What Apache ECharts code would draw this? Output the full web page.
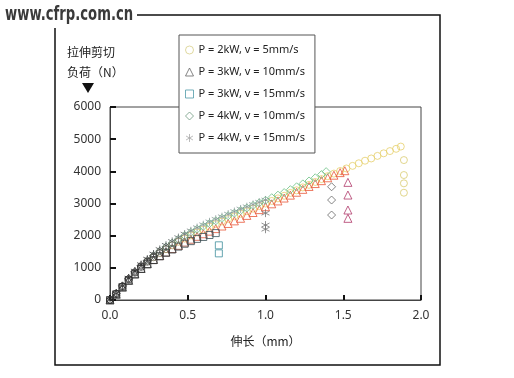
<!DOCTYPE html>
<html><head><meta charset="utf-8">
<script src="https://cdn.jsdelivr.net/npm/echarts@6/dist/echarts.min.js"></script>
<style>html,body{margin:0;padding:0;background:#fff}#c{width:514px;height:378px}</style>
</head><body><div id="c"></div>
<script>
const legendNames = ['P = 2kW, v = 5mm/s','P = 3kW, v = 10mm/s','P = 3kW, v = 15mm/s','P = 4kW, v = 10mm/s','P = 4kW, v = 15mm/s'];
const xTicks = [0, 0.5, 1.0, 1.5, 2.0];
const yTicks = [0, 1000, 2000, 3000, 4000, 5000, 6000];

// P = 2kW, v = 5mm/s (circles)
const circleCurve = [[0,0],[0.04,190],[0.08,420],[0.12,640],[0.16,850],[0.20,1030],[0.24,1190],[0.28,1330],[0.32,1460],[0.36,1580],[0.40,1700],[0.44,1810],[0.48,1910],[0.52,2010],[0.56,2100],[0.60,2190],[0.64,2280],[0.68,2360],[0.72,2440],[0.76,2520],[0.80,2600],[0.84,2680],[0.88,2760],[0.92,2840],[0.96,2920],[1.00,3000],[1.04,3080],[1.08,3160],[1.12,3240],[1.16,3330],[1.20,3410],[1.24,3500],[1.28,3580],[1.32,3670],[1.36,3760],[1.40,3850],[1.44,3930],[1.48,4010],[1.52,4090],[1.56,4170],[1.60,4250],[1.64,4330],[1.68,4400],[1.72,4480],[1.76,4560],[1.80,4630],[1.84,4700],[1.87,4770]];
const circleFail = [[1.89,4350],[1.89,3885],[1.89,3627],[1.89,3335]];
// P = 3kW, v = 10mm/s (triangles)
const triCurve = [[0,0],[0.04,180],[0.08,400],[0.12,610],[0.16,810],[0.20,980],[0.24,1130],[0.28,1260],[0.32,1380],[0.36,1490],[0.40,1600],[0.44,1700],[0.48,1800],[0.52,1890],[0.56,1980],[0.60,2060],[0.64,2140],[0.68,2220],[0.72,2300],[0.76,2380],[0.80,2460],[0.84,2540],[0.88,2630],[0.92,2720],[0.96,2810],[1.00,2900],[1.04,2990],[1.08,3080],[1.12,3170],[1.16,3260],[1.20,3350],[1.24,3440],[1.28,3530],[1.32,3620],[1.36,3710],[1.40,3800],[1.44,3880],[1.48,3960],[1.51,4020]];
const triFail = [[1.53,3657],[1.53,3263],[1.53,2797],[1.53,2539]];
// P = 3kW, v = 15mm/s (squares)
const sqCurve = [[0,0],[0.04,180],[0.08,400],[0.12,610],[0.16,800],[0.20,970],[0.24,1110],[0.28,1240],[0.32,1360],[0.36,1470],[0.40,1570],[0.44,1660],[0.48,1750],[0.52,1830],[0.56,1900],[0.60,1960],[0.64,2020],[0.68,2080]];
const sqFail = [[0.70,1700],[0.70,1450]];
// P = 4kW, v = 10mm/s (diamonds)
const diaCurve = [[0,0],[0.04,210],[0.08,440],[0.12,670],[0.16,880],[0.20,1070],[0.24,1230],[0.28,1380],[0.32,1520],[0.36,1650],[0.40,1770],[0.44,1890],[0.48,2000],[0.52,2100],[0.56,2200],[0.60,2290],[0.64,2380],[0.68,2460],[0.72,2540],[0.76,2620],[0.80,2700],[0.84,2780],[0.88,2860],[0.92,2940],[0.96,3020],[1.00,3100],[1.04,3180],[1.08,3260],[1.12,3340],[1.16,3430],[1.20,3520],[1.24,3610],[1.28,3700],[1.32,3800],[1.36,3900],[1.39,3990]];
const diaFail = [[1.425,3520],[1.425,3108],[1.425,2642]];
// P = 4kW, v = 15mm/s (stars)
const starCurve = [[0,0],[0.04,200],[0.08,430],[0.12,680],[0.16,900],[0.20,1100],[0.24,1270],[0.28,1430],[0.32,1570],[0.36,1700],[0.40,1820],[0.44,1940],[0.48,2050],[0.52,2150],[0.56,2250],[0.60,2340],[0.64,2430],[0.68,2510],[0.72,2590],[0.76,2670],[0.80,2750],[0.84,2830],[0.88,2900],[0.92,2970],[0.96,3040],[1.00,3110]];
const starFail = [[1.0,2700],[1.0,2330],[1.0,2200]];

const starPath = 'path://M5,0L5,10M0.67,2.5L9.33,7.5M0.67,7.5L9.33,2.5';

function hexToRgb(h){return [parseInt(h.substr(1,2),16),parseInt(h.substr(3,2),16),parseInt(h.substr(5,2),16)];}
function mix(a,b,t){const A=hexToRgb(a),B=hexToRgb(b);return 'rgb('+A.map((v,i)=>Math.round(v+(B[i]-v)*t)).join(',')+')';}
function curveData(curve, color, dark, x0, x1){
  return curve.map(p=>{
    let t = (p[0]-x0)/(x1-x0); t=Math.max(0,Math.min(1,t));
    return {value:p, itemStyle:{borderColor: mix(dark,color,t)}};
  });
}
function failData(arr,color){return arr.map(p=>({value:p,itemStyle:{borderColor:color}}));}

const defs = [
  {name:legendNames[0], symbol:'circle', size:7, curve:circleCurve, fail:circleFail, legend:'#d8cf8a', color:'#e6cf6a', failColor:'#d9cc70', x0:0.2, x1:0.5},
  {name:legendNames[1], symbol:'triangle', size:8, curve:triCurve, fail:triFail, legend:'#666666', color:'#e8583a', failColor:'#b03a6a', x0:0.25, x1:0.6},
  {name:legendNames[2], symbol:'rect', size:7, curve:sqCurve, fail:sqFail, legend:'#4f9aa8', color:'#3d5a62', failColor:'#3f8e9c', x0:0.3, x1:0.7},
  {name:legendNames[3], symbol:'diamond', size:8, curve:diaCurve, fail:diaFail, legend:'#6f9a80', color:'#6cc083', failColor:'#666666', x0:0.2, x1:0.55},
  {name:legendNames[4], symbol:starPath, size:8, curve:starCurve, fail:starFail, legend:'#aaaaaa', color:'#8a9a9a', failColor:'#777777', x0:0.2, x1:0.6}
];
const series = [];
defs.forEach(d=>{
  const base = {type:'scatter', name:d.name, symbol:d.symbol, symbolSize:d.size,
    itemStyle:{color:'transparent', borderColor:d.legend, borderWidth:1}, emphasis:{disabled:true}, animation:false};
  series.push(Object.assign({}, base, {data:curveData(d.curve,d.color,'#2f2f2f',d.x0,d.x1)}));
  series.push(Object.assign({}, base, {data:failData(d.fail,d.failColor)}));
});

const chart = echarts.init(document.getElementById('c'), null, {renderer:'canvas'});
chart.setOption({
  animation:false,
  backgroundColor:'#fff',
  grid:{left:110, right:93, top:107, bottom:78, show:true, borderColor:'#444', borderWidth:1, backgroundColor:'transparent'},
  xAxis:{type:'value', min:0, max:2, interval:0.5,
    name:'伸长（mm）', nameLocation:'middle', nameGap:35,
    nameTextStyle:{fontSize:12, color:'#222', fontFamily:'Noto Sans CJK SC'},
    axisLine:{lineStyle:{color:'#444', width:1}},
    axisTick:{inside:true, length:5, lineStyle:{color:'#111', width:2}},
    axisLabel:{margin:10, fontSize:12, color:'#333', fontFamily:'Noto Sans', formatter:v=>xTicks.indexOf(v)>=0?v.toFixed(1):''},
    splitLine:{show:false}},
  yAxis:{type:'value', min:0, max:6000, interval:1000,
    axisLine:{show:true, lineStyle:{color:'#444', width:1}},
    axisTick:{show:true, inside:true, length:6, lineStyle:{color:'#111', width:2}},
    axisLabel:{margin:9, fontSize:12, color:'#333', fontFamily:'Noto Sans', formatter:v=>yTicks.indexOf(v)>=0?String(v):''},
    splitLine:{show:false}},
  legend:{show:true, orient:'vertical', left:179, top:35, padding:[8,10,8,6], itemGap:8,
    itemWidth:8, itemHeight:8, backgroundColor:'#fff', borderColor:'#555', borderWidth:1,
    data:defs.map(d=>({name:d.name, itemStyle:{color:'transparent', borderColor:d.legend, borderWidth:1}})),
    textStyle:{fontSize:11, color:'#222', fontFamily:'Noto Sans', lineHeight:14}},
  graphic:[
    {type:'rect', shape:{x:55, y:15, width:385, height:350}, style:{fill:'none', stroke:'#111', lineWidth:1.5}, z:0, silent:true},
    {type:'rect', shape:{x:0, y:0, width:137, height:28}, style:{fill:'#fff'}, z:1, silent:true},
    {type:'group', x:5, y:5, scaleX:0.66, scaleY:1, silent:true, children:[
      {type:'text', x:0, y:0, style:{text:'www.cfrp.com.cn', fontSize:20, fontWeight:'bold', fontFamily:'DejaVu Sans, sans-serif', fill:'#3a3a3a', shadowColor:'rgba(0,0,0,0.35)', shadowBlur:2, shadowOffsetX:1, shadowOffsetY:1}, z:2}
    ]},
    {type:'text', left:67, top:42, style:{text:'拉伸剪切\n负荷（N）', fontSize:12, lineHeight:20, fontFamily:'Noto Sans CJK SC', fill:'#222'}, z:2, silent:true},
    {type:'polygon', shape:{points:[[82,83],[94,83],[88,93]]}, style:{fill:'#111'}, z:2, silent:true}
  ],
  series:series
});
</script></body></html>
